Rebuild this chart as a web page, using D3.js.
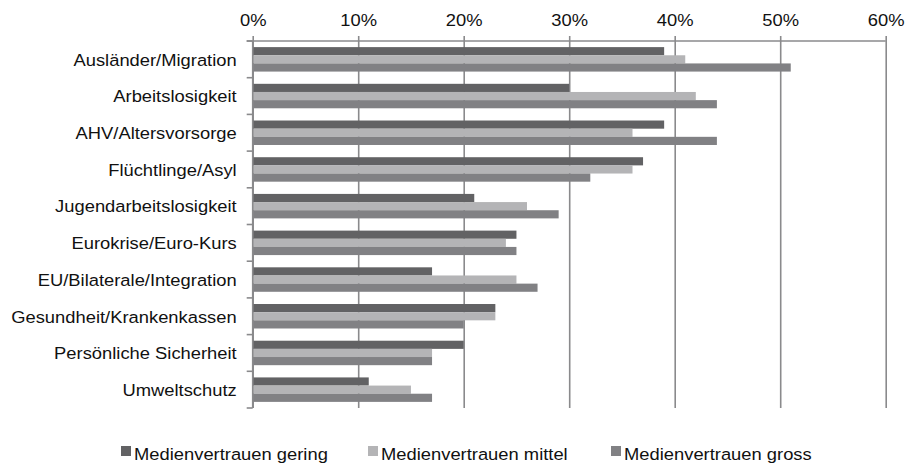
<!DOCTYPE html>
<html>
<head>
<meta charset="utf-8">
<script src="https://cdn.jsdelivr.net/npm/d3@7"></script>
<style>
  html, body { margin: 0; padding: 0; background: #fff; }
  svg { display: block; font-family: "Liberation Sans", Arial, sans-serif; }
</style>
</head>
<body>
<svg id="chart" width="908" height="466"></svg>
<script>
// Themen und Anteile nach Medienvertrauen (in %)
const categories = [
  "Ausländer/Migration",
  "Arbeitslosigkeit",
  "AHV/Altersvorsorge",
  "Flüchtlinge/Asyl",
  "Jugendarbeitslosigkeit",
  "Eurokrise/Euro-Kurs",
  "EU/Bilaterale/Integration",
  "Gesundheit/Krankenkassen",
  "Persönliche Sicherheit",
  "Umweltschutz"
];
const seriesNames = ["Medienvertrauen gering", "Medienvertrauen mittel", "Medienvertrauen gross"];
const gering = [39, 30, 39, 37, 21, 25, 17, 23, 20, 11];
const mittel = [41, 42, 36, 36, 26, 24, 25, 23, 17, 15];
const gross  = [51, 44, 44, 32, 29, 25, 27, 20, 17, 17];
const xTicks = [0, 10, 20, 30, 40, 50, 60];
const colors = ["#626264", "#b4b4b6", "#818184"];

const seriesValues = [gering, mittel, gross];
const rows = categories.map((c, i) => ({
  cat: c,
  vals: seriesNames.map((s, j) => ({ key: s, value: seriesValues[j][i] }))
}));

const svg = d3.select("#chart");
const plotLeft = 252.7, plotRight = 885.7, plotTop = 41, plotBottom = 408;
const sx = 1.08;          // horizontale Streckung der Schrift
const fontSize = 17;
const gridColor = "#8a8a8c";

const x = d3.scaleLinear().domain([0, 60]).range([plotLeft, plotRight]);
const y = d3.scaleBand().domain(categories).range([plotTop, plotBottom]);
const ySub = d3.scaleBand().domain(seriesNames).range([0, y.bandwidth()]).paddingOuter(0.75);

// vertikale Gitterlinien
svg.append("g")
  .attr("transform", `translate(0,${plotTop})`)
  .call(d3.axisTop(x).tickValues(xTicks).tickSize(-(plotBottom - plotTop)).tickFormat(""))
  .call(g => g.select(".domain").remove())
  .call(g => g.selectAll("line").attr("stroke", gridColor).attr("stroke-width", 1.6));

// Balken
const groups = svg.append("g").selectAll("g")
  .data(rows).join("g")
  .attr("transform", d => `translate(0,${y(d.cat)})`);
groups.selectAll("rect")
  .data(d => d.vals).join("rect")
  .attr("x", x(0))
  .attr("y", d => ySub(d.key))
  .attr("width", d => x(d.value) - x(0))
  .attr("height", ySub.bandwidth())
  .attr("fill", (d, j) => colors[j]);

// obere Achse mit Prozentbeschriftung
const xAxis = svg.append("g")
  .attr("transform", `translate(0,${plotTop})`)
  .call(d3.axisTop(x).tickValues(xTicks).tickSize(5).tickSizeOuter(0).tickPadding(10)
    .tickFormat(d => d + "%"));
xAxis.select(".domain").remove();
xAxis.selectAll("line").attr("stroke", gridColor).attr("stroke-width", 1.6);
xAxis.selectAll("text")
  .attr("font-size", fontSize).attr("font-family", "Liberation Sans, Arial, sans-serif")
  .attr("fill", "#111")
  .attr("transform", `scale(${sx},1)`);
xAxis.append("line")
  .attr("x1", plotLeft - 6).attr("x2", plotRight)
  .attr("stroke", gridColor).attr("stroke-width", 1.6);

// linke Achse mit Themen
const yAxis = svg.append("g")
  .attr("transform", `translate(${plotLeft},0)`)
  .call(d3.axisLeft(y).tickSize(0).tickPadding(0));
yAxis.select(".domain").remove();
yAxis.selectAll("text")
  .attr("font-size", fontSize).attr("font-family", "Liberation Sans, Arial, sans-serif")
  .attr("fill", "#111")
  .attr("x", -16 / sx)
  .attr("dy", "0.37em")
  .attr("transform", `scale(${sx},1)`);
yAxis.append("line")
  .attr("y1", plotTop).attr("y2", plotBottom)
  .attr("stroke", gridColor).attr("stroke-width", 1.6);
yAxis.selectAll(".bound")
  .data(categories.map(c => y(c)).concat([y.range()[1]]))
  .join("line").attr("class", "bound")
  .attr("x1", -6).attr("x2", 0)
  .attr("y1", d => d).attr("y2", d => d)
  .attr("stroke", gridColor).attr("stroke-width", 1.6);

// Legende
const legendX = [121, 368, 611];
const legend = svg.append("g").selectAll("g")
  .data(seriesNames).join("g")
  .attr("transform", (d, i) => `translate(${legendX[i]},446)`);
legend.append("rect")
  .attr("width", 10).attr("height", 10)
  .attr("fill", (d, i) => colors[i]);
legend.append("text")
  .attr("transform", `translate(13,14) scale(${sx},1)`)
  .attr("font-size", fontSize).attr("fill", "#111")
  .text(d => d);
</script>
</body>
</html>
